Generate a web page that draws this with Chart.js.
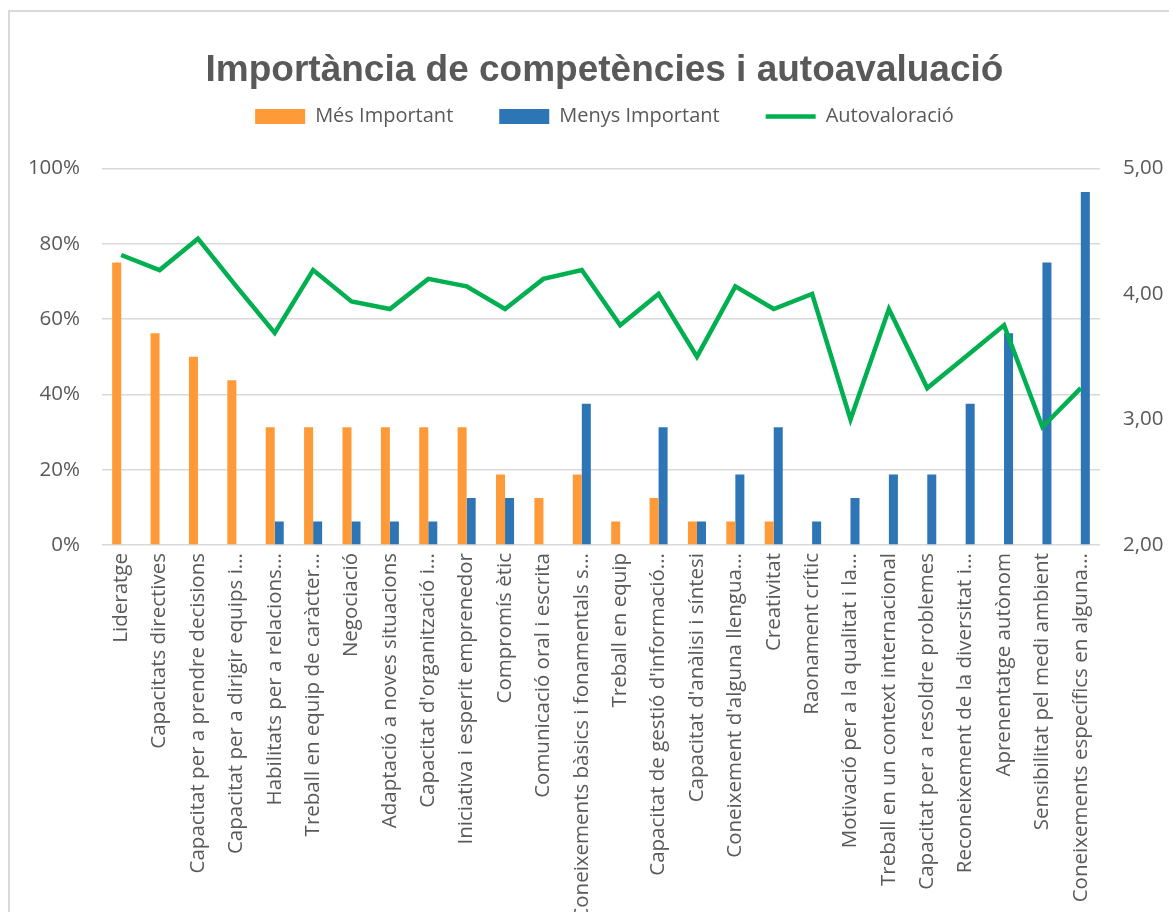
<!DOCTYPE html>
<html>
<head>
<meta charset="utf-8">
<script src="https://cdn.jsdelivr.net/npm/chart.js@4/dist/chart.umd.min.js"></script>
<style>
  html, body { margin: 0; padding: 0; background: #fff; overflow: hidden; }
  #frame { position: absolute; left: 8px; top: 10px; width: 1200px; height: 950px;
           border-left: 2px solid #d9d9d9; border-top: 2px solid #d9d9d9; }
  #chart { position: absolute; left: 0; top: 0; }
</style>
</head>
<body>
<div id="frame"></div>
<canvas id="chart" width="1169" height="912"></canvas>
<script>
// Competències (etiquetes tal com surten al gràfic)
const competencies = [
    'Lideratge',
    'Capacitats directives',
    'Capacitat per a prendre decisions',
    'Capacitat per a dirigir equips i...',
    'Habilitats per a relacions...',
    'Treball en equip de caràcter...',
    'Negociació',
    'Adaptació a noves situacions',
    "Capacitat d'organització i...",
    'Iniciativa i esperit emprenedor',
    'Compromís ètic',
    'Comunicació oral i escrita',
    'Coneixements bàsics i fonamentals s...',
    'Treball en equip',
    "Capacitat de gestió d'informació...",
    "Capacitat d'anàlisi i síntesi",
    "Coneixement d'alguna llengua...",
    'Creativitat',
    'Raonament crític',
    'Motivació per a la qualitat i la...',
    'Treball en un context internacional',
    'Capacitat per a resoldre problemes',
    'Reconeixement de la diversitat i...',
    'Aprenentatge autònom',
    'Sensibilitat pel medi ambient',
    'Coneixements específics en alguna...'
];

// % de respostes
const mesImportant = [0.75, 0.5625, 0.5, 0.4375, 0.3125, 0.3125, 0.3125, 0.3125, 0.3125, 0.3125, 0.1875, 0.125, 0.1875,
                      0.0625, 0.125, 0.0625, 0.0625, 0.0625, 0, 0, 0, 0, 0, 0, 0, 0];
const menysImportant = [0, 0, 0, 0, 0.0625, 0.0625, 0.0625, 0.0625, 0.0625, 0.125, 0.125, 0, 0.375,
                        0, 0.3125, 0.0625, 0.1875, 0.3125, 0.0625, 0.125, 0.1875, 0.1875, 0.375, 0.5625, 0.75, 0.9375];

// mitjana autovaloració (escala dreta)
const autovaloracio = [4.31, 4.19, 4.44, 4.06, 3.69, 4.19, 3.94, 3.88, 4.12, 4.06, 3.88, 4.12, 4.19,
                       3.75, 4.00, 3.50, 4.06, 3.88, 4.00, 3.00, 3.88, 3.25, 3.50, 3.75, 2.94, 3.25];

const grey = '#595959';
const tickFont = { family: 'Open Sans', size: 20.5 };

// extra room under the legend
const legendGap = {
    id: 'legendGap',
    beforeInit(chart) {
        const fit = chart.legend.fit;
        chart.legend.fit = function () {
            fit.bind(chart.legend)();
            this.height += 32;
        };
    }
};

const canvas = document.getElementById('chart');
const ctx = canvas.getContext('2d');

new Chart(ctx, {
    type: 'bar',
    data: {
        labels: competencies,
        datasets: [
            {
                type: 'line',
                label: 'Autovaloració',
                data: autovaloracio,
                yAxisID: 'y1',
                borderColor: '#00b050',
                backgroundColor: '#00b050',
                borderWidth: 4.5,
                pointRadius: 0,
                tension: 0,
                order: 0
            },
            {
                label: 'Més Important',
                data: mesImportant,
                yAxisID: 'y',
                backgroundColor: '#ff9a38',
                categoryPercentage: 0.47,
                barPercentage: 1.0,
                order: 1
            },
            {
                label: 'Menys Important',
                data: menysImportant,
                yAxisID: 'y',
                backgroundColor: '#2e75b6',
                categoryPercentage: 0.47,
                barPercentage: 1.0,
                order: 1
            }
        ]
    },
    plugins: [legendGap],
    options: {
        responsive: false,
        animation: false,
        layout: { padding: { left: 20, right: -20 } },
        scales: {
            x: {
                grid: { display: false, drawTicks: false },
                border: { display: false },
                ticks: {
                    autoSkip: false, maxRotation: 90, minRotation: 90,
                    padding: 8, color: grey, font: tickFont
                },
                afterFit: (scale) => { scale.height = 912 - 545; }
            },
            y: {
                position: 'left',
                min: 0, max: 1,
                grid: { color: '#d9d9d9', lineWidth: 1.5, drawTicks: false },
                border: { display: false },
                ticks: {
                    stepSize: 0.2, padding: 22, color: grey, font: tickFont,
                    callback: v => Math.round(v * 100) + '%'
                },
                afterFit: (scale) => { scale.width = 102 - 20; }
            },
            y1: {
                position: 'right',
                min: 2, max: 5,
                grid: { drawOnChartArea: false, drawTicks: false },
                border: { display: false },
                ticks: {
                    stepSize: 1, padding: 23, color: grey, font: tickFont,
                    callback: v => v.toFixed(2).replace('.', ',')
                },
                afterFit: (scale) => { scale.width = 1169 + 20 - 1100; }
            }
        },
        plugins: {
            title: {
                display: true,
                text: 'Importància de competències i autoavaluació',
                color: grey,
                font: { family: 'Liberation Sans', size: 37, weight: 'bold' },
                padding: { top: 49, bottom: -33 }
            },
            legend: {
                position: 'top',
                labels: {
                    color: grey,
                    font: { family: 'Open Sans', size: 20 },
                    usePointStyle: true,
                    pointStyleWidth: 50,
                    boxHeight: 15,
                    padding: 46,
                    generateLabels: (chart) => {
                        const items = Chart.defaults.plugins.legend.labels.generateLabels(chart);
                        items.forEach(it => {
                            const ds = chart.data.datasets[it.datasetIndex];
                            if (ds.type === 'line') {
                                it.pointStyle = 'line';
                                it.lineWidth = 4.5;
                                it.strokeStyle = ds.borderColor;
                            } else {
                                it.pointStyle = 'rect';
                                it.lineWidth = 0;
                            }
                        });
                        // bars first, line last
                        return [items[1], items[2], items[0]];
                    }
                }
            },
            tooltip: { enabled: false }
        }
    }
});
</script>
</body>
</html>
